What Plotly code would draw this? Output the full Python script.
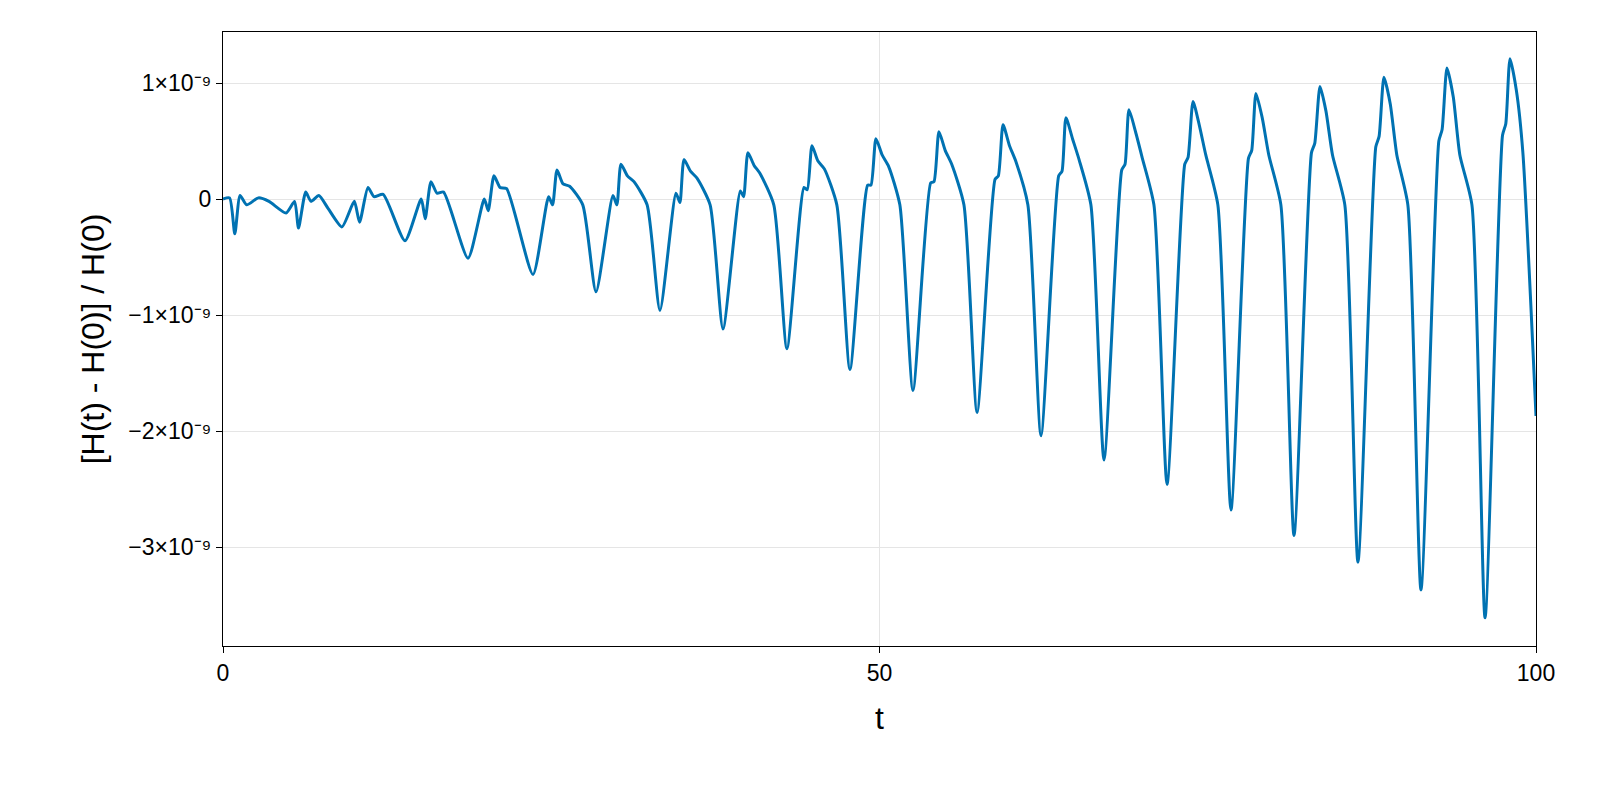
import plotly.graph_objects as go

t_values = [0, 0.5, 0.9, 1.3, 1.8, 2.7, 3.5, 4.8, 5.45, 5.75, 6.3, 6.7, 7.3, 8.0, 9.06, 10.0, 10.4, 11.04, 11.5, 12.2,
            13.86, 15.1, 15.4, 15.84, 16.3, 16.8, 18.66, 19.9, 20.2, 20.64, 21.1, 21.6,
            23.61, 24.8, 25.1, 25.44, 25.9, 26.4, 27.4,
            28.41, 29.7, 30.0, 30.31, 30.8, 31.3, 32.3,
            33.28, 34.5, 34.8, 35.11, 35.6, 36.1, 37.1,
            38.08, 39.4, 39.65, 39.98, 40.45, 40.9, 41.95,
            42.95, 44.25, 44.5, 44.86, 45.3, 45.8, 46.75,
            47.75, 49.1, 49.35, 49.73, 50.2, 50.7, 51.55,
            52.55, 53.9, 54.15, 54.53, 55.0, 55.5, 56.43,
            57.43, 58.8, 59.05, 59.41, 59.9, 60.4, 61.3,
            62.30, 63.65, 63.9, 64.20, 64.7, 65.2, 66.1,
            67.10, 68.45, 68.7, 69.00, 69.5, 70.0, 70.9,
            71.90, 73.25, 73.5, 73.88, 74.35, 74.85, 75.77,
            76.77, 78.1, 78.35, 78.67, 79.15, 79.65, 80.57,
            81.57, 82.9, 83.15, 83.55, 84.0, 84.5, 85.44,
            86.44, 87.8, 88.05, 88.42, 88.9, 89.4, 90.24,
            91.24, 92.6, 92.85, 93.22, 93.7, 94.2, 95.12,
            96.12, 97.45, 97.7, 98.02, 98.5, 99.0, 100]

h_values = [0, 0.01, -0.30, 0.03, -0.05, 0.01, -0.02, -0.12, -0.02, -0.25, 0.06, -0.02, 0.03, -0.08, -0.24, -0.02, -0.20, 0.10, 0.02, 0.04,
            -0.36, 0.0, -0.17, 0.15, 0.05, 0.06, -0.51, 0.0, -0.10, 0.20, 0.10, 0.09,
            -0.65, 0.02, -0.05, 0.25, 0.13, 0.11, -0.05,
            -0.80, 0.03, -0.05, 0.30, 0.20, 0.15, -0.05,
            -0.96, 0.05, -0.03, 0.34, 0.24, 0.18, -0.05,
            -1.12, 0.07, 0.02, 0.40, 0.29, 0.22, -0.05,
            -1.29, 0.10, 0.08, 0.46, 0.33, 0.26, -0.05,
            -1.47, 0.12, 0.12, 0.52, 0.38, 0.28, -0.05,
            -1.65, 0.14, 0.15, 0.58, 0.42, 0.30, -0.05,
            -1.84, 0.17, 0.20, 0.64, 0.46, 0.32, -0.05,
            -2.04, 0.20, 0.24, 0.70, 0.52, 0.34, -0.05,
            -2.25, 0.25, 0.30, 0.77, 0.58, 0.36, -0.05,
            -2.46, 0.30, 0.36, 0.84, 0.64, 0.38, -0.05,
            -2.68, 0.35, 0.42, 0.91, 0.70, 0.38, -0.05,
            -2.90, 0.40, 0.48, 0.97, 0.76, 0.38, -0.05,
            -3.13, 0.45, 0.54, 1.05, 0.82, 0.38, -0.05,
            -3.37, 0.50, 0.60, 1.13, 0.88, 0.38, -0.05,
            -3.61, 0.55, 0.65, 1.21, 0.94, 0.40, -1.87]

y_tickvals = [1, 0, -1, -2, -3]
y_ticktext = ["1×10⁻⁹", "0", "−1×10⁻⁹", "−2×10⁻⁹", "−3×10⁻⁹"]
x_tickvals = [0, 50, 100]

fig = go.Figure(go.Scatter(
    x=t_values, y=[v * 1e-9 for v in h_values], mode="lines",
    line=dict(color="#0072b2", width=3, shape="spline", smoothing=0.6)))

fig.update_layout(
    width=1584, height=784, paper_bgcolor="white", plot_bgcolor="white",
    margin=dict(l=215, r=56, t=24, b=146), showlegend=False,
    font=dict(family="Liberation Sans, Arial, sans-serif", color="black"),
)
fig.update_xaxes(range=[0, 100], tickvals=x_tickvals, tickfont=dict(size=23),
                 showgrid=True, gridcolor="#e5e5e5", zeroline=False,
                 showline=True, linecolor="black", mirror=True, linewidth=1,
                 ticks="outside", ticklen=6, tickcolor="black",
                 title=dict(text="t", font=dict(size=32), standoff=22))
fig.update_yaxes(range=[-3.853e-9, 1.44e-9], tickvals=[v * 1e-9 for v in y_tickvals],
                 ticktext=y_ticktext, tickfont=dict(size=23),
                 showgrid=True, gridcolor="#e5e5e5", zeroline=False,
                 showline=True, linecolor="black", mirror=True, linewidth=1,
                 ticks="outside", ticklen=6, tickcolor="black",
                 title=dict(text="[H(t) - H(0)] / H(0)", font=dict(size=32), standoff=14))
fig.write_html("out.html")
